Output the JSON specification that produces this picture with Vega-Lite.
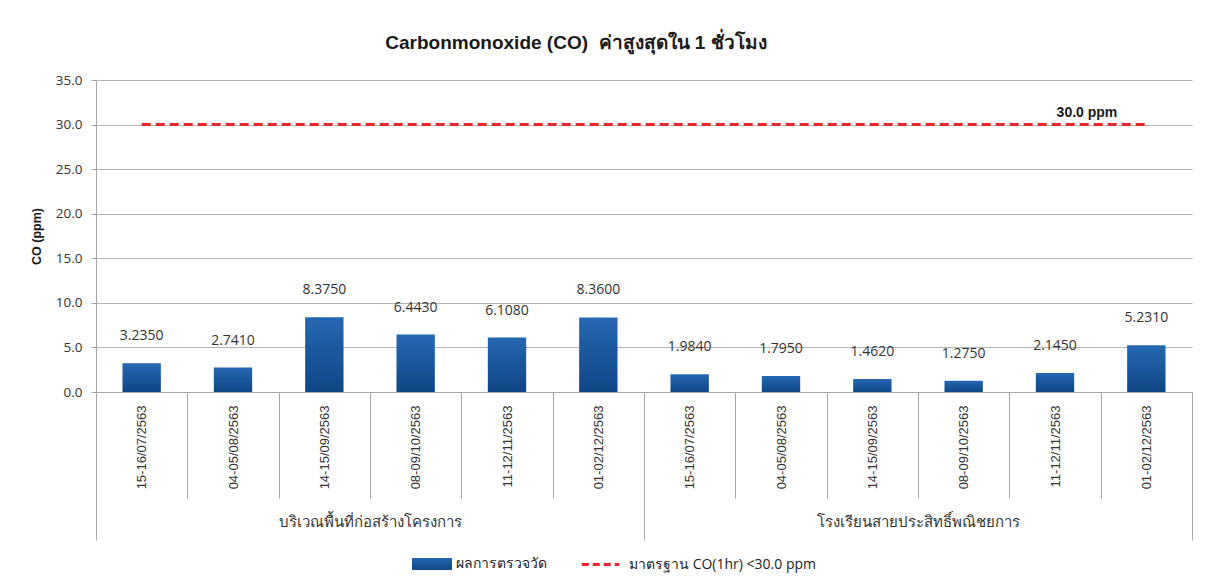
{
  "$schema": "https://vega.github.io/schema/vega-lite/v6.json",
  "width": 1096,
  "height": 312,
  "autosize": "none",
  "padding": {"left": 96, "top": 80, "right": 13, "bottom": 187},
  "background": "white",
  "config": {
    "view": {"stroke": null},
    "font": "Open Sans",
    "axis": {"labelFont": "Open Sans", "labelColor": "#333333", "labelFontSize": 13.5, "titleFont": "Liberation Sans"},
    "legend": {"labelFont": "Open Sans", "labelFontSize": 14, "labelColor": "#222222", "labelLimit": 400}
  },
  "title": {
    "text": "Carbonmonoxide (CO)\u00a0 ค่าสูงสุดใน 1 ชั่วโมง",
    "font": "Liberation Sans",
    "fontSize": 19,
    "fontWeight": "bold",
    "color": "#1a1a1a",
    "anchor": "middle",
    "dx": -68,
    "offset": 20
  },
  "datasets": {
    "obs": [
      {"key": "g1|15-16/07/2563", "group": "บริเวณพื้นที่ก่อสร้างโครงการ", "value": 3.235, "s1": "ผลการตรวจวัด"},
      {"key": "g1|04-05/08/2563", "group": "บริเวณพื้นที่ก่อสร้างโครงการ", "value": 2.741, "s1": "ผลการตรวจวัด"},
      {"key": "g1|14-15/09/2563", "group": "บริเวณพื้นที่ก่อสร้างโครงการ", "value": 8.375, "s1": "ผลการตรวจวัด"},
      {"key": "g1|08-09/10/2563", "group": "บริเวณพื้นที่ก่อสร้างโครงการ", "value": 6.443, "s1": "ผลการตรวจวัด"},
      {"key": "g1|11-12/11/2563", "group": "บริเวณพื้นที่ก่อสร้างโครงการ", "value": 6.108, "s1": "ผลการตรวจวัด"},
      {"key": "g1|01-02/12/2563", "group": "บริเวณพื้นที่ก่อสร้างโครงการ", "value": 8.36, "s1": "ผลการตรวจวัด"},
      {"key": "g2|15-16/07/2563", "group": "โรงเรียนสายประสิทธิ์พณิชยการ", "value": 1.984, "s1": "ผลการตรวจวัด"},
      {"key": "g2|04-05/08/2563", "group": "โรงเรียนสายประสิทธิ์พณิชยการ", "value": 1.795, "s1": "ผลการตรวจวัด"},
      {"key": "g2|14-15/09/2563", "group": "โรงเรียนสายประสิทธิ์พณิชยการ", "value": 1.462, "s1": "ผลการตรวจวัด"},
      {"key": "g2|08-09/10/2563", "group": "โรงเรียนสายประสิทธิ์พณิชยการ", "value": 1.275, "s1": "ผลการตรวจวัด"},
      {"key": "g2|11-12/11/2563", "group": "โรงเรียนสายประสิทธิ์พณิชยการ", "value": 2.145, "s1": "ผลการตรวจวัด"},
      {"key": "g2|01-02/12/2563", "group": "โรงเรียนสายประสิทธิ์พณิชยการ", "value": 5.231, "s1": "ผลการตรวจวัด"}
    ],
    "std": [
      {"start": "g1|15-16/07/2563", "end": "g2|01-02/12/2563", "lx": "g2|11-12/11/2563", "y": 30, "s2": "มาตรฐาน CO(1hr) <30.0 ppm", "label": "30.0 ppm"}
    ]
  },
  "layer": [
    {
      "encoding": {
        "x": {
          "field": "key",
          "type": "nominal",
          "scale": {
            "domain": ["g1|15-16/07/2563", "g1|04-05/08/2563", "g1|14-15/09/2563", "g1|08-09/10/2563", "g1|11-12/11/2563", "g1|01-02/12/2563",
                       "g2|15-16/07/2563", "g2|04-05/08/2563", "g2|14-15/09/2563", "g2|08-09/10/2563", "g2|11-12/11/2563", "g2|01-02/12/2563"],
            "paddingInner": 0,
            "paddingOuter": 0
          },
          "axis": {
            "title": null,
            "orient": "bottom",
            "labelExpr": "split(datum.label, '|')[1]",
            "labelAngle": -90,
            "labelAlign": "right",
            "labelBaseline": "middle",
            "labelFont": "Liberation Sans",
            "labelFontSize": 13,
            "labelPadding": -93,
            "tickBand": "extent",
            "tickSize": 106,
            "tickColor": "#a6a6a6",
            "domainColor": "#a6a6a6"
          }
        },
        "y": {
          "field": "value",
          "type": "quantitative",
          "scale": {"domain": [0, 35]},
          "axis": {
            "title": "CO (ppm)",
            "titleFontSize": 12.5,
            "titleFontWeight": "bold",
            "titleColor": "#1a1a1a",
            "titlePadding": 12,
            "values": [0, 5, 10, 15, 20, 25, 30, 35],
            "format": ".1f",
            "labelFontSize": 13.5,
            "tickSize": 5,
            "labelPadding": 9,
            "tickColor": "#a6a6a6",
            "domainColor": "#a6a6a6",
            "gridColor": "#b3b3b3",
            "grid": true
          }
        }
      },
      "layer": [
        {
          "data": {"name": "obs"},
          "mark": {"type": "bar", "width": {"band": 0.42},
            "color": {"gradient": "linear", "x1": 0, "y1": 0, "x2": 0, "y2": 1, "stops": [{"offset": 0, "color": "#2568b2"}, {"offset": 1, "color": "#0f4685"}]}},
          "encoding": {
            "opacity": {"field": "s1", "type": "nominal", "scale": {"range": [1]},
              "legend": {"title": null, "orient": "none", "legendX": 316, "legendY": 464, "symbolType": "M-1,-0.3H1V0.3H-1Z", "symbolSize": 1600, "symbolStrokeWidth": 0, "symbolFillColor": "#1b5ca3", "labelOffset": 4}}
          }
        },
        {
          "data": {"name": "obs"},
          "mark": {"type": "text", "baseline": "alphabetic", "dy": -23, "fontSize": 14, "color": "#333333"},
          "encoding": {
            "text": {"field": "value", "type": "quantitative", "format": ".4f"}
          }
        },
        {
          "data": {"name": "std"},
          "mark": {"type": "rule", "strokeWidth": 3, "strokeDash": [9, 5]},
          "encoding": {
            "x": {"field": "start", "type": "nominal"},
            "x2": {"field": "end"},
            "y": {"field": "y", "type": "quantitative"},
            "stroke": {"field": "s2", "type": "nominal", "scale": {"range": ["#e8262a"]},
              "legend": {"title": null, "orient": "none", "legendX": 484, "legendY": 464, "symbolType": "stroke", "symbolSize": 1400, "symbolStrokeWidth": 3, "symbolDash": [7, 4], "labelOffset": 8}}
          }
        },
        {
          "data": {"name": "std"},
          "mark": {"type": "text", "baseline": "alphabetic", "dy": -8, "font": "Liberation Sans", "fontSize": 14, "fontWeight": "bold", "color": "#1a1a1a"},
          "encoding": {
            "x": {"field": "lx", "type": "nominal", "bandPosition": 0.85},
            "y": {"field": "y", "type": "quantitative"},
            "text": {"field": "label"}
          }
        }
      ]
    },
    {
      "data": {"name": "obs"},
      "mark": {"type": "rule", "opacity": 0},
      "encoding": {
        "x": {
          "field": "group",
          "type": "nominal",
          "scale": {
            "domain": ["บริเวณพื้นที่ก่อสร้างโครงการ", "โรงเรียนสายประสิทธิ์พณิชยการ"],
            "paddingInner": 0,
            "paddingOuter": 0
          },
          "axis": {
            "title": null,
            "orient": "bottom",
            "domain": false,
            "labelAngle": 0,
            "labelAlign": "center",
            "labelBaseline": "top",
            "labelFontSize": 15,
            "labelLimit": 500,
            "labelPadding": -26,
            "tickBand": "extent",
            "tickSize": 148,
            "tickColor": "#a6a6a6"
          }
        }
      }
    }
  ],
  "resolve": {"scale": {"x": "independent"}, "axis": {"x": "independent"}}
}
